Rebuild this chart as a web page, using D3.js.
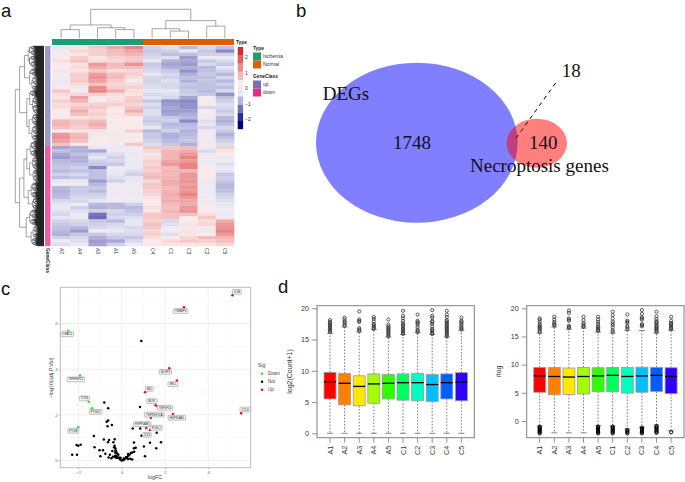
<!DOCTYPE html>
<html><head><meta charset="utf-8">
<script src="https://cdn.jsdelivr.net/npm/d3@7"></script>
<style>html,body{margin:0;padding:0;background:#fff}svg{display:block}text{font-family:"Liberation Sans",Arial,sans-serif}</style>
</head><body><svg id="c" width="685" height="482"></svg>
<script>
// ---------- panel a data ----------
const heatSamples=["A2","A4","A3","A1","A5","C4","C1","C3","C2","C5"];
const heatUp={
A2:[-0.3,0.1,0.1,0.2,0.6,0.3,0.4,-0.2,0.3,0.1,0.05,0.1,0.1,0.9,0.6,0.5,0.8,0.6,0.6,0.3,0.4,0.3,1.1,1.2,1.0,0.3,1.6,1.7,1.5,1.0],
A4:[0.5,0.7,0.5,0.8,1.0,0.5,0.6,0.5,0.8,0.8,0.9,0.6,-0.2,0.2,0.7,1.5,1.2,0.7,0.9,1.3,1.0,0.5,0.9,0.9,0.8,0.5,1.1,1.2,1.0,0.5],
A3:[0.9,0.8,0.8,0.5,0.6,1.6,1.3,0.9,1.5,1.7,1.5,1.0,1.8,1.9,0.8,0.1,0.3,0.8,0.9,0.7,0.8,0.6,1.1,1.3,1.1,0.5,-0.1,0.2,0.3,0.4],
A1:[1.4,1.1,1.0,0.8,0.7,1.1,1.0,0.6,1.0,1.1,0.9,0.7,0.8,1.3,0.6,0.5,0.6,0.8,0.5,0.4,0.5,0.3,0.3,0.2,0.4,0.2,-0.05,0.1,0.2,0.0],
A5:[1.9,1.4,1.2,0.9,0.9,1.7,1.0,0.7,0.8,0.6,0.3,0.6,0.8,0.6,0.5,0.8,0.9,0.7,0.9,1.3,0.8,0.4,0.3,0.2,0.4,0.8,0.2,0.2,0.3,0.9],
C4:[-0.6,-0.7,-0.6,-0.5,-0.3,-0.7,-0.6,-0.5,-0.3,-0.5,-0.6,-0.5,-0.4,-0.3,-0.5,-0.3,-0.7,-0.4,-0.6,-0.4,-0.4,-0.6,-0.7,-0.5,-0.3,-0.9,-0.7,-0.7,-0.6,-0.4],
C1:[-0.4,-0.6,-0.8,-0.4,-1.0,-1.1,-1.0,-0.7,-0.5,-0.6,-0.4,-0.5,-0.5,-0.3,-0.4,-0.5,-1.3,-1.2,-1.1,-1.2,-1.1,-0.7,-0.6,-0.9,-0.8,-0.6,-1.0,-1.0,-0.9,-0.7],
C3:[-0.9,-0.3,-0.8,-1.2,-1.1,-1.2,-1.0,-1.3,-1.0,-0.8,-1.0,-0.7,-0.8,-0.7,-0.6,-1.1,-1.4,-1.3,-1.3,-1.2,-1.0,-0.9,-1.4,-0.9,-0.8,-1.0,-0.9,-0.8,-0.7,-1.0],
C2:[-0.5,-0.7,-0.6,0.0,-0.7,-0.5,-0.9,-0.8,-0.7,-0.8,-0.7,-0.8,-0.8,-0.9,-0.7,0.2,0.2,0.1,-0.5,0.2,0.1,0.1,-0.4,-0.3,-0.5,0.0,0.1,0.1,-0.2,0.3],
C5:[-0.8,-1.4,-0.6,-0.2,-0.5,-0.7,-0.3,-0.6,-0.9,-0.5,-0.9,-0.6,-0.8,-0.5,-1.3,-0.8,-0.6,-0.4,-0.5,-0.7,-0.5,-0.9,-1.0,-0.8,-0.5,-0.7,-1.0,-0.8,-0.6,-0.4]};
const heatDown={
A2:[-1.1,-0.8,-1.1,-1.2,-0.9,-0.8,-0.7,-0.9,-0.6,-0.8,-0.3,-0.1,-0.9,-1.0,-0.9,-0.8,-0.5,-0.3,-0.2,-0.4,-0.5,-0.3,-0.6,-0.7,-0.8,-0.9,-1.0,-0.6,-0.2,-0.4],
A4:[-1.0,-1.0,-0.8,-1.0,-1.0,-0.8,-0.6,-0.8,-0.5,-0.7,-0.3,-0.2,-0.7,-0.7,-0.6,-0.5,-0.5,-0.1,-0.6,-0.4,0.0,-0.2,-0.5,-0.6,-0.9,-1.2,-0.7,-0.5,-0.4,-0.2],
A3:[-0.3,-1.1,-0.5,-0.3,-0.6,-0.7,-1.4,-0.8,-0.8,-0.8,-1.2,-0.9,-0.7,-0.9,-0.6,-0.5,-0.3,-0.9,-1.0,-0.6,-1.6,-1.7,-0.7,-0.6,-0.5,0.1,-0.7,-1.0,-1.2,-1.1],
A1:[-0.1,-0.2,-0.4,-0.6,-0.5,-0.7,-0.1,-0.2,-0.3,-0.4,-0.6,-0.1,0.05,0.05,-0.1,0.0,-0.1,-0.9,-0.9,-0.5,-0.6,-0.5,-0.9,-0.5,-0.4,-0.2,-0.5,-0.7,-1.1,-0.6],
A5:[-0.1,-0.1,-0.2,-0.2,-0.2,-0.2,-0.2,-0.4,-0.6,-0.3,-0.2,-0.1,-0.1,0.0,-0.1,-0.1,-0.2,-0.6,-0.9,-0.8,-0.6,-0.4,-0.3,-0.3,-0.5,-0.4,-0.5,-0.7,-0.5,-0.2],
C4:[0.9,0.7,0.1,0.6,0.8,0.7,0.9,0.8,1.0,1.1,0.7,0.9,0.9,0.8,0.7,0.5,0.3,0.4,0.6,0.5,0.9,0.9,0.8,1.0,0.9,0.7,0.8,0.6,0.4,0.3],
C1:[0.9,1.2,1.2,1.2,1.4,1.6,1.1,1.2,1.1,1.2,1.3,1.3,1.1,1.2,1.3,1.2,1.3,1.1,1.0,1.2,1.0,1.0,-0.5,-0.4,-0.1,0.0,-0.4,0.3,0.7,0.5],
C3:[1.1,1.3,1.6,1.9,1.6,1.9,1.9,1.2,1.6,1.6,1.7,1.5,1.7,1.6,1.9,1.6,1.4,1.3,1.6,1.7,1.0,0.4,0.4,0.5,0.3,0.5,0.5,0.7,0.9,0.5],
C2:[-0.2,-0.5,0.1,0.0,-0.1,0.1,0.1,0.2,0.4,0.2,-0.1,-0.1,-0.1,-0.1,0.1,0.1,0.0,0.1,0.3,0.3,0.6,0.9,0.6,0.7,0.3,-0.2,0.4,1.1,0.8,0.5],
C5:[0.8,0.5,0.2,-0.2,0.0,-0.4,-0.2,-0.3,-0.7,-0.6,-0.7,-0.9,-0.9,-0.8,-0.6,-0.5,-0.4,-0.3,-0.1,-0.1,-0.1,-0.1,1.3,1.6,1.7,1.9,1.6,1.2,1.0,0.7]};
const colTree=[1,[.46,[.30,0,1],[.365,2,[.30,3,4]]],[.61,[.33,5,[.25,6,7]],[.42,8,9]]];
const rowTree=[1,
 [.85,[.68,[.55,30,40],[.5,25,[.42,30,15]]],[.6,[.5,20,[.4,25,30]],[.52,[.4,20,15],[.42,30,20]]]],
 [.85,[.7,[.6,[.48,28,22],[.5,[.4,20,20],[.38,15,25]]],[.55,[.45,30,20],[.4,20,15]]],[.62,[.5,30,20],[.45,[.38,25,15],25]]]];
const heatStops=[-2.29,-1.77,-1.25,-0.73,-0.21,0.31,0.83,1.35,1.87,2.39];
const heatColors=["#000080","#2f2f9b","#7373bb","#b5b5dd","#e9e9f5","#fbeaea","#f3bcbc","#eb8e8e","#e35f5f","#d62b2b"];
const heatTicks=[2,1,0,-1,-2];
const typeNames=["Ischemia","Normal"], typeColors=["#1b9e77","#d95f02"];
const geneNames=["up","down"], geneColors=["#7570b3","#e7298a"];
// ---------- panel b data ----------
const vennCounts=[1748,140,18];
const vennNames=["DEGs","Necroptosis genes"];
// ---------- panel c data ----------
const upPts=[[5.12,7.24],[2.88,6.72],[2.20,4.04],[2.55,3.50],[1.08,2.99],[1.57,2.42],[1.66,2.36],[2.37,2.03],[1.35,1.87],[1.14,1.42],[1.31,1.33],[5.52,2.07]];
const downPts=[[-2.46,5.69],[-1.92,3.72],[-1.52,2.57],[-1.37,2.29],[-2.00,1.45]];
const notPts=[[0.91,5.24],[-0.80,2.54],[-0.62,2.29],[0.85,2.34],[-0.62,1.75],[-0.69,1.69],[-0.65,1.50],[-0.45,1.55],[-1.28,1.07],[-0.82,0.92],[-0.58,0.89],[-0.63,0.80],[-0.38,0.80],[-0.32,0.93],[0.51,1.40],[0.86,1.40],[0.92,1.08],[1.62,1.21],[0.57,0.79],[1.82,0.80],[1.31,0.77],[1.03,0.61],[1.60,0.53],[1.08,0.18],[-2.08,0.67],[-2.00,0.64],[-1.89,0.69],[-2.28,0.25],[-2.06,0.25],[-1.25,0.58],[-1.02,0.44],[-0.86,0.44],[-0.98,0.18],[-0.75,0.29],[-0.54,0.25],[-0.60,0.13],[-0.43,0.41],[-0.35,0.58],[-0.32,0.64],[-0.29,0.53],[-0.28,0.45],[-0.25,0.38],
[-0.28,0.22],[-0.25,0.16],[-0.22,0.16],[-0.17,0.12],[-0.12,0.09],[-0.06,0.04],[0,0],[0.06,0.01],[0.12,0.04],[0.18,0.09],[0.25,0.15],[0.31,0.2],[0.37,0.26],[0.43,0.32],[0.49,0.35],[0.58,0.38],[0.65,0.55],[0.4,0.07],[0.49,0.04],[-0.32,0.16],[-0.25,0.12],[-0.47,0.09],[-0.4,0.16],[-0.09,0.13],[0.29,0.06],[0.57,0.53],[-0.2,0.3],[-0.15,0.25],[0.1,0.08],[0.2,0.14],[0.3,0.28],[-0.3,0.35],[-0.05,0.1]];
const geneLabels=[["IL1B",5.32,7.39],["TNFAIP3",2.72,6.55],["CHAC1",-2.51,5.53],["TNFRSF21",-2.11,3.55],["TLR4",-1.72,2.72],["PTGS2",-1.2,2.13],["PYGB",-2.23,1.30],["NLRP3",2.02,3.88],["SELL",2.37,3.34],["BID",1.28,3.14],["MLKL",1.4,2.6],["TNFSF10",2.0,2.31],["TNFRSF10A",1.51,2.01],["HSP90AA1",2.55,1.87],["HSP90AB1",0.95,1.59],["FOSL2",1.6,1.43],["IL33",1.17,1.12],["CYLD",5.71,2.23]];
const sigNames=["Down","Not","Up"], sigColors=["#00ff00","#000000","#ff0000"];
// ---------- panel d data ----------
const boxSamples=["A1","A2","A3","A4","A5","C1","C2","C3","C4","C5"];
const boxColors=["#ff0000","#ff8000","#ffe800","#a2ff00","#2eff00","#00ff5d","#00ffbf","#00bfff","#005dff","#2e00ff"];
const countQ1=[5.5,4.55,4.4,4.8,5.5,5.3,5.2,5.1,5.5,5.2];
const countMed=[8.25,8.0,7.5,7.9,8.0,8.1,8.1,7.8,8.1,8.2];
const countQ3=[9.75,9.6,9.2,9.5,9.4,9.5,9.6,9.4,9.5,9.7];
const countHi=[16,17,16.2,16.6,15.4,15.8,16.1,15.8,15.4,16.5];
const countLo=[0,0,0,0,0,0,0,0,0,0];
const countOut=[
[16.2,16.4,16.6,16.8,17.0,17.2,17.4,17.6,17.8,18.1],
[17.2,17.4,17.7,17.9,18.2,18.5],
[16.4,16.6,16.8,17.8,18.0,18.2,19.5],
[16.7,16.9,17.1,17.3,17.5,17.9,18.3,18.6],
[15.5,15.7,15.9,16.1,16.3,16.5,16.7,16.9,17.1,17.4,18.2],
[15.9,16.1,16.3,16.5,16.7,16.9,17.2,17.4,17.6,18.0,18.4,18.8,19.6],
[16.2,16.4,16.6,17.0,17.4,17.6,17.8,18.0,19.0],
[15.9,16.1,16.3,16.5,16.7,17.1,17.5,17.8,18.0,18.5,18.8,19.7],
[15.5,15.7,15.9,16.1,16.3,16.5,16.7,16.9,17.1,17.3,17.5,17.7,17.9,18.1,18.6,19.0,19.6],
[16.6,16.8,17.0,17.3,17.6,17.8,18.0,18.5]];
const rlogQ1=[5.1,4.65,4.7,4.8,5.2,5.2,4.95,5.1,5.25,4.85];
const rlogMed=[8.0,7.9,7.8,7.9,8.0,8.1,7.9,8.0,8.1,7.9];
const rlogQ3=[9.5,9.5,9.4,9.5,9.45,9.5,9.5,9.55,9.5,9.45];
const rlogHi=[15.6,16.7,16.3,16.5,15.8,15.6,16.1,16.05,15.6,16.1];
const rlogLo=[-0.9,-2.1,-2.1,-2.1,-0.8,-0.9,-1.4,-1.1,-0.7,-1.7];
const rlogOut=[
[15.8,16.0,16.3,16.5,16.7,16.9,17.2,17.6,18.0,18.2,-1.0,-1.2,-1.4,-1.6,-1.8,-2.0,-2.2],
[16.9,17.1,17.3,17.6,18.0,18.5],
[16.5,16.7,16.9,17.8,18.0,18.2,19.2,19.6],
[16.7,16.9,17.1,17.4,17.9,18.5],
[16.0,16.2,16.4,16.6,16.8,17.2,17.6,18.0,18.5,-1.0,-1.2,-1.4,-1.6,-1.8,-2.0,-2.2],
[15.8,16.1,16.6,17.0,17.3,17.6,18.2,18.8,19.4,-1.0,-1.2,-1.4,-1.6,-1.8,-2.0,-2.2],
[16.3,16.6,16.8,17.4,17.6,17.8,18.9,-1.6,-1.8,-2.0,-2.2],
[16.8,17.0,17.2,18.0,18.2,18.4,19.0,19.7,-1.2,-1.4,-1.6,-1.8,-2.0,-2.2],
[15.8,16.0,16.2,16.4,16.6,16.8,17.0,17.3,17.5,17.7,18.1,18.6,19.4,-0.9,-1.1,-1.3,-1.5,-1.7,-1.9,-2.1],
[16.3,16.5,16.7,17.0,17.2,17.4,17.8,18.5,-2.0]];

const svg=d3.select("#c");
// panel letters
[["a",1,17],["b",296,17],["c",1,295],["d",278,293]].forEach(([t,x,y])=>
  svg.append("text").attr("x",x).attr("y",y).text(t).style("font-size","18.5px").attr("fill","#111"));

// ---------- a: heatmap ----------
const a=svg.append("g");
const hx=d3.scaleBand().domain(heatSamples).range([52,234]);
const rowsN=heatUp.A2.length+heatDown.A2.length;
const hy=d3.scaleBand().domain(d3.range(rowsN)).range([46,246]);
// cells average many thin gene rows, so their colours sit nearer the pale middle of the key
const hc=d3.scaleLinear().domain(heatStops.map(v=>v*1.3)).range(heatColors).clamp(true);
heatSamples.forEach(s=>{
  const vals=heatUp[s].concat(heatDown[s]);
  a.append("g").selectAll("rect").data(vals).join("rect")
   .attr("x",hx(s)).attr("width",hx.bandwidth()+.3)
   .attr("y",(d,i)=>hy(i)).attr("height",hy.bandwidth()+.3).attr("fill",d=>hc(d));
  a.append("text").attr("transform",`translate(${hx(s)+hx.bandwidth()/2-1.5},248) rotate(90)`).text(s)
   .style("font-size","5px").attr("fill","#333");
});
// annotation bars
const nUp=heatUp.A2.length;
a.append("rect").attr("x",hx("A2")).attr("y",39).attr("width",hx("C4")-hx("A2")).attr("height",6).attr("fill",typeColors[0]);
a.append("rect").attr("x",hx("C4")).attr("y",39).attr("width",234-hx("C4")).attr("height",6).attr("fill",typeColors[1]);
a.append("rect").attr("x",45).attr("y",hy(0)).attr("width",5.5).attr("height",hy(nUp)-hy(0)).attr("fill","#9b98cb");
a.append("rect").attr("x",45).attr("y",hy(nUp)).attr("width",5.5).attr("height",246-hy(nUp)).attr("fill","#f15ca5");
a.append("text").attr("x",236).attr("y",44).text("Type").style("font-size","4.8px").style("font-weight","bold").attr("fill","#222");
a.append("text").attr("transform","translate(45.5,248) rotate(90)").text("GeneClass").style("font-size","4.8px").style("font-weight","bold").attr("fill","#222");
// column dendrogram
const colH=d3.scaleLinear().domain([0,1]).range([38.3,9.3]);
let colPath=d3.path();
function walkCol(n){
  if(typeof n==="number") return {x:hx(heatSamples[n])+hx.bandwidth()/2,h:0};
  const l=walkCol(n[1]),r=walkCol(n[2]);
  colPath.moveTo(l.x,colH(l.h));colPath.lineTo(l.x,colH(n[0]));colPath.lineTo(r.x,colH(n[0]));colPath.lineTo(r.x,colH(r.h));
  return {x:(l.x+r.x)/2,h:n[0]};
}
walkCol(colTree);
a.append("path").attr("d",colPath.toString()).attr("fill","none").attr("stroke","#808080").attr("stroke-width",.7);
// row dendrogram
const countLeaves=n=>typeof n==="number"?n:countLeaves(n[1])+countLeaves(n[2]);
const rowY=d3.scaleLinear().domain([0,countLeaves(rowTree)]).range([46,246]);
const rowH=d3.scaleLinear().domain([0,1]).range([44,15.3]);
let rowPath=d3.path(), leafPath=d3.path();
function fringe(start,n,h){
  if(n<=1){const y=rowY(start+.5);return {y,h:0};}
  const k=Math.max(1,Math.round(n*.42));
  const ch=h*.88;
  const l=fringe(start,k,k>1?ch:0), r=fringe(start+k,n-k,n-k>1?ch:0);
  link(leafPath,l,r,h);
  return {y:(l.y+r.y)/2,h};
}
function link(p,l,r,h){
  p.moveTo(rowH(l.h),l.y);p.lineTo(rowH(h),l.y);p.lineTo(rowH(h),r.y);p.lineTo(rowH(r.h),r.y);
}
let cursor=0;
function walkRow(n,parentH){
  if(typeof n==="number"){const s=cursor;cursor+=n;return fringe(s,n,parentH*.92);}
  const l=walkRow(n[1],n[0]),r=walkRow(n[2],n[0]);
  link(rowPath,l,r,n[0]);
  return {y:(l.y+r.y)/2,h:n[0]};
}
walkRow(rowTree,1);
a.append("path").attr("d",leafPath.toString()).attr("fill","none").attr("stroke","#000").attr("stroke-width",.5);
a.append("path").attr("d",rowPath.toString()).attr("fill","none").attr("stroke","#666").attr("stroke-width",.6);
// heat legend
const legY=d3.scaleLinear().domain([-2.6,2.65]).range([129,47]);
const legBand=d3.scaleBand().domain(heatColors).range([129,47]);
a.append("g").selectAll("rect").data(heatColors).join("rect").attr("x",237.7).attr("width",5.4)
 .attr("y",d=>legBand(d)).attr("height",legBand.bandwidth()+.2).attr("fill",d=>d);
a.append("g").selectAll("text").data(heatTicks).join("text").attr("x",245).attr("y",d=>legY(d)+1.8)
 .text(d=>d<0?"\u2212"+(-d):d).style("font-size","5px").attr("fill","#333");
function catLegend(title,names,cols,y0){
  a.append("text").attr("x",253).attr("y",y0).text(title).style("font-size","4.8px").style("font-weight","bold").attr("fill","#222");
  names.forEach((n,i)=>{
    a.append("rect").attr("x",253).attr("y",y0+2.5+i*8).attr("width",8).attr("height",8).attr("fill",cols[i]);
    a.append("text").attr("x",263).attr("y",y0+8.4+i*8).text(n).style("font-size","5px").attr("fill","#333");
  });
}
catLegend("Type",typeNames,typeColors,50);
catLegend("GeneClass",geneNames,geneColors,78);

// ---------- b: venn ----------
const b=svg.append("g");
const serif="'Liberation Serif','Times New Roman',serif";
b.append("ellipse").attr("cx",416.8).attr("cy",142.7).attr("rx",100.8).attr("ry",80).attr("fill","#0000ff").attr("fill-opacity",.5);
b.append("ellipse").attr("cx",536.8).attr("cy",143.2).attr("rx",30.2).attr("ry",24.5).attr("fill","#ff0000").attr("fill-opacity",.5);
b.append("line").attr("x1",516).attr("y1",138.3).attr("x2",557.7).attr("y2",80).attr("stroke","#000").attr("stroke-width",1).attr("stroke-dasharray","4,4");
[[vennNames[0],322.7,100],[vennCounts[0],393,149],[vennCounts[1],529,149],[vennNames[1],470,171.7],[vennCounts[2],561.7,76.7]].forEach(([t,x,y])=>
 b.append("text").attr("x",x).attr("y",y).text(t).style("font-family",serif).style("font-size","19px").attr("fill","#111"));

// ---------- c: volcano ----------
const c=svg.append("g");
const vx=d3.scaleLinear().domain([-2.83,5.96]).range([60.3,250.7]);
const vy=d3.scaleLinear().domain([-0.32,7.59]).range([467.7,287.3]);
const xMaj=[-2,0,2,4], yMaj=[0,2,4,6];
const xMin=[-1,1,3,5], yMin=[1,3,5,7];
xMin.forEach(v=>c.append("line").attr("x1",vx(v)).attr("x2",vx(v)).attr("y1",287.3).attr("y2",467.7).attr("stroke","#f4f4f4").attr("stroke-width",.5));
yMin.forEach(v=>c.append("line").attr("y1",vy(v)).attr("y2",vy(v)).attr("x1",60.3).attr("x2",250.7).attr("stroke","#f4f4f4").attr("stroke-width",.5));
xMaj.forEach(v=>c.append("line").attr("x1",vx(v)).attr("x2",vx(v)).attr("y1",287.3).attr("y2",467.7).attr("stroke","#ebebeb").attr("stroke-width",.8));
yMaj.forEach(v=>c.append("line").attr("y1",vy(v)).attr("y2",vy(v)).attr("x1",60.3).attr("x2",250.7).attr("stroke","#ebebeb").attr("stroke-width",.8));
const vxAxis=c.append("g").attr("transform","translate(0,467.7)").call(d3.axisBottom(vx).tickValues(xMaj).tickSize(1.5).tickPadding(1.2).tickFormat(d=>d<0?"\u2212"+(-d):d));
const vyAxis=c.append("g").attr("transform","translate(60.3,0)").call(d3.axisLeft(vy).tickValues(yMaj).tickSize(1.5).tickPadding(1.2).tickFormat(d=>d));
[vxAxis,vyAxis].forEach(g=>{g.select(".domain").remove();g.selectAll("text").style("font-size","4.4px").attr("fill","#666");g.selectAll("line").attr("stroke","#666").attr("stroke-width",.5);});
c.append("rect").attr("x",60.3).attr("y",287.3).attr("width",190.4).attr("height",180.4).attr("fill","none").attr("stroke","#bdbdbd").attr("stroke-width",1);
[[notPts,sigColors[1]],[downPts,sigColors[0]],[upPts,sigColors[2]]].forEach(([pts,col])=>
 c.append("g").selectAll("circle").data(pts).join("circle").attr("cx",d=>vx(d[0])).attr("cy",d=>vy(d[1])).attr("r",1.25).attr("fill",col));
geneLabels.forEach(([t,x,y])=>{
  const g=c.append("g").attr("transform",`translate(${vx(x)},${vy(y)})`);
  const r=g.append("rect");
  const tx=g.append("text").attr("text-anchor","middle").attr("y",1).text(t).style("font-size","2.9px").attr("fill","#333");
  const w=tx.node().getComputedTextLength()+3;
  r.attr("x",-w/2).attr("y",-2.4).attr("width",w).attr("height",4.8).attr("rx",.9).attr("fill","#f2f2f2").attr("stroke","#8a8a8a").attr("stroke-width",.5);
});
c.append("text").attr("x",155).attr("y",479).attr("text-anchor","middle").text("logFC").style("font-size","5.5px").attr("fill","#444");
c.append("text").attr("transform","translate(53,378) rotate(-90)").attr("text-anchor","middle").text("\u2212log10(adj.P.Val)").style("font-size","5.5px").attr("fill","#444");
c.append("text").attr("x",258).attr("y",367).text("Sig").style("font-size","5.2px").attr("fill","#444");
sigNames.forEach((n,i)=>{
  c.append("circle").attr("cx",262).attr("cy",373.7+i*8).attr("r",1.2).attr("fill",sigColors[i]);
  c.append("text").attr("x",268).attr("y",375.4+i*8).text(n).style("font-size","4.6px").attr("fill","#444");
});

// ---------- d: box plots ----------
function boxPlot(opt){
  const g=svg.append("g");
  const x=d3.scaleBand().domain(boxSamples).range([opt.x0,opt.x1]).paddingInner(.18).paddingOuter(.09);
  const y=d3.scaleLinear().domain(opt.yd).range(opt.yr);
  const cx=s=>x(s)+x.bandwidth()/2;
  const ax=g.append("g").attr("transform",`translate(0,${opt.bottom})`).call(d3.axisBottom(x).tickSize(5).tickPadding(3));
  const ay=g.append("g").attr("transform",`translate(${opt.fx0},0)`).call(d3.axisLeft(y).tickValues(opt.ticks).tickSize(5).tickPadding(3));
  ax.select(".domain").remove();ay.select(".domain").remove();
  ax.selectAll("text").attr("transform","rotate(-90)").attr("text-anchor","end").attr("x",-8).attr("y",0).attr("dy",".35em").style("font-size","7.2px").attr("fill","#333");
  ay.selectAll("text").style("font-size","7.2px").attr("fill","#333");
  [ax,ay].forEach(a=>a.selectAll("line").attr("stroke","#666").attr("stroke-width",.7));
  g.append("rect").attr("x",opt.fx0).attr("y",opt.top).attr("width",opt.fx1-opt.fx0).attr("height",opt.bottom-opt.top).attr("fill","none").attr("stroke","#808080").attr("stroke-width",1);
  boxSamples.forEach((s,i)=>{
    const bw=x.bandwidth(), m=cx(s);
    const whisk=(a,b)=>g.append("line").attr("x1",m).attr("x2",m).attr("y1",y(a)).attr("y2",y(b)).attr("stroke","#444").attr("stroke-width",.7).attr("stroke-dasharray","1.6,1.6");
    whisk(opt.q3[i],opt.hi[i]);whisk(opt.q1[i],opt.lo[i]);
    [opt.hi[i],opt.lo[i]].forEach(v=>g.append("line").attr("x1",m-3).attr("x2",m+3).attr("y1",y(v)).attr("y2",y(v)).attr("stroke","#555").attr("stroke-width",.7));
    g.append("rect").attr("x",x(s)).attr("width",bw).attr("y",y(opt.q3[i])).attr("height",y(opt.q1[i])-y(opt.q3[i])).attr("fill",boxColors[i]).attr("stroke","#9a9a9a").attr("stroke-width",.8);
    g.append("line").attr("x1",x(s)).attr("x2",x(s)+bw).attr("y1",y(opt.med[i])).attr("y2",y(opt.med[i])).attr("stroke","#000").attr("stroke-width",1.3);
    g.append("g").selectAll("circle").data(opt.out[i]).join("circle").attr("cx",m).attr("cy",d=>y(d)).attr("r",1.6).attr("fill","none").attr("stroke",d=>d<0?"#000":"#333").attr("stroke-width",d=>d<0?1:.8);
  });
  g.append("text").attr("transform",`translate(${opt.lx},371.5) rotate(-90)`).attr("text-anchor","middle").text(opt.label).style("font-size","7px").attr("fill","#333");
}
boxPlot({x0:322.7,x1:468.7,fx0:317,fx1:474.3,top:305.7,bottom:437.7,yd:[0,20],yr:[433.3,308.3],ticks:[0,5,10,15,20],lx:291.5,label:"log2(Count+1)",q1:countQ1,med:countMed,q3:countQ3,hi:countHi,lo:countLo,out:countOut});
boxPlot({x0:532.4,x1:678.4,fx0:526.7,fx1:684,top:305.7,bottom:437.7,yd:[0,20],yr:[421,308.3],ticks:[0,5,10,15,20],lx:501,label:"rlog",q1:rlogQ1,med:rlogMed,q3:rlogQ3,hi:rlogHi,lo:rlogLo,out:rlogOut});
</script></body></html>
